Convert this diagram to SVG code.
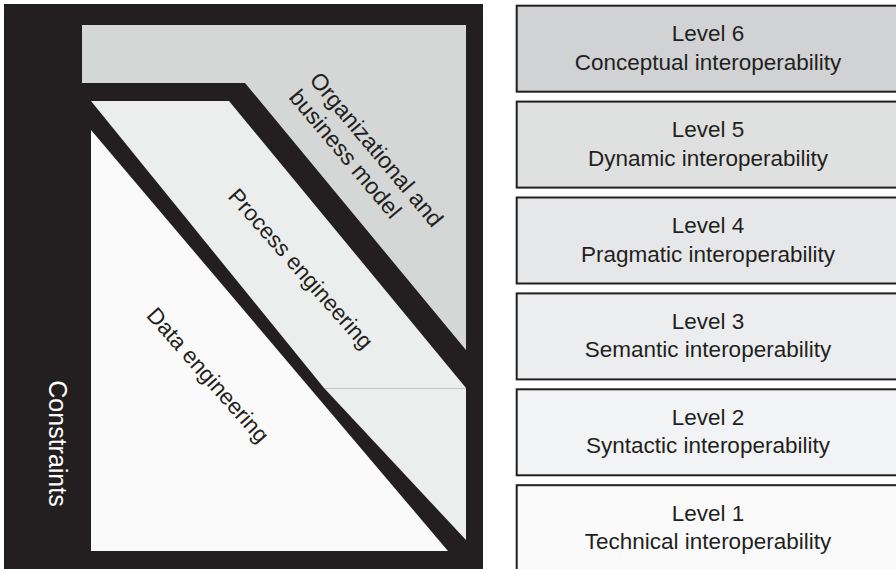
<svg xmlns="http://www.w3.org/2000/svg" width="896" height="569" viewBox="0 0 896 569">
  <style>
    .lbl { font-family: "Liberation Sans", Arial, Helvetica, sans-serif; font-size: 22.5px; fill: #231f20; }
    .box { stroke: #231f20; stroke-width: 2; }
    .ctr { text-anchor: middle; }
  </style>
  <rect width="896" height="569" fill="#ffffff"/>

  <!-- Left figure -->
  <g id="frame">
    <rect x="4" y="4" width="479" height="565" fill="#231f20"/>
  </g>
  <g id="organizational">
    <polygon points="82,25 466,25 466,350 245,83 82,83" fill="#d5d7d7"/>
    <g transform="translate(308.4,80.6) rotate(50)">
      <text class="lbl" x="0" y="0" style="font-size:23px">Organizational and</text>
      <text class="lbl" x="0" y="26.5" style="font-size:23px">business model</text>
    </g>
  </g>
  <g id="process">
    <polygon points="91,101 229,101 466,388 324,388" fill="#eceeee"/>
    <polygon points="324,388 466,388 466,540" fill="#eceeee"/>
    <line x1="325" y1="388.5" x2="466" y2="388.5" stroke="#c4c6c6" stroke-width="1"/>
    <text class="lbl" transform="translate(227,197) rotate(48.5)">Process engineering</text>
  </g>
  <g id="data">
    <polygon points="91,130 91,551 448,551" fill="#fafafa"/>
    <text class="lbl" transform="translate(145.4,316) rotate(48.5)">Data engineering</text>
  </g>
  <g id="constraints">
    <text class="lbl ctr" transform="translate(48.5,443.5) rotate(90)" style="font-size:25px; fill:#ffffff">Constraints</text>
  </g>

  <!-- Right level boxes -->
  <g id="level6">
    <rect class="box" x="516.7" y="5.7" width="400" height="86" fill="#d0d2d3"/>
    <text class="lbl ctr" x="708" y="41.2">Level 6</text>
    <text class="lbl ctr" x="708" y="69.7">Conceptual interoperability</text>
  </g>
  <g id="level5">
    <rect class="box" x="516.7" y="101.6" width="400" height="86" fill="#dfe0e0"/>
    <text class="lbl ctr" x="708" y="137.1">Level 5</text>
    <text class="lbl ctr" x="708" y="165.6">Dynamic interoperability</text>
  </g>
  <g id="level4">
    <rect class="box" x="516.7" y="197.5" width="400" height="86" fill="#e6e7e8"/>
    <text class="lbl ctr" x="708" y="233">Level 4</text>
    <text class="lbl ctr" x="708" y="261.5">Pragmatic interoperability</text>
  </g>
  <g id="level3">
    <rect class="box" x="516.7" y="293.4" width="400" height="86" fill="#ecedee"/>
    <text class="lbl ctr" x="708" y="328.9">Level 3</text>
    <text class="lbl ctr" x="708" y="357.4">Semantic interoperability</text>
  </g>
  <g id="level2">
    <rect class="box" x="516.7" y="389.3" width="400" height="86" fill="#f2f3f4"/>
    <text class="lbl ctr" x="708" y="424.8">Level 2</text>
    <text class="lbl ctr" x="708" y="453.3">Syntactic interoperability</text>
  </g>
  <g id="level1">
    <rect class="box" x="516.7" y="485.2" width="400" height="100" fill="#fafafa"/>
    <text class="lbl ctr" x="708" y="520.7">Level 1</text>
    <text class="lbl ctr" x="708" y="549.2">Technical interoperability</text>
  </g>
  <g id="connectors"/>
</svg>
